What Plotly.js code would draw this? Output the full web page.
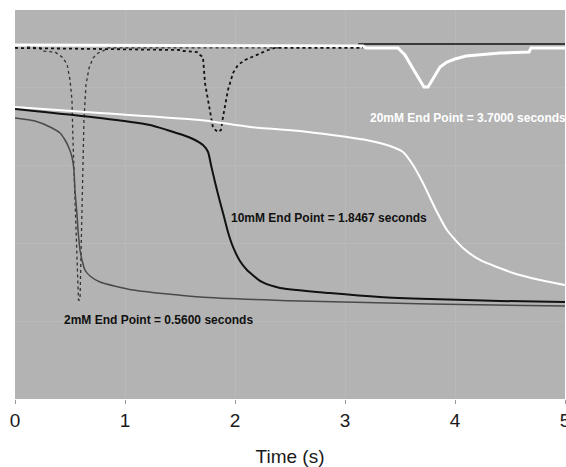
<!DOCTYPE html>
<html>
<head>
<meta charset="utf-8">
<script src="https://cdn.plot.ly/plotly-3.0.1.min.js"></script>
<style>html,body{margin:0;padding:0;background:#fff;}#chart{width:566px;height:467px;}</style>
</head>
<body>
<div id="chart"></div>
<script>
// Time axis (s)
var tickVals = [0, 1, 2, 3, 4, 5];
var tickText = ["0", "1", "2", "3", "4", "5"];

// 20mM signal (white)
var t20 = [0, 0.773, 1.682, 2.136, 2.591, 3.191, 3.409, 3.527, 3.618, 3.709, 3.818, 3.927, 4.073, 4.227, 4.527, 4.773, 5.0];
var v20 = [3.753, 3.676, 3.586, 3.496, 3.445, 3.329, 3.252, 3.175, 3.008, 2.776, 2.455, 2.172, 1.941, 1.787, 1.620, 1.530, 1.465];

// 10mM signal (black)
var t10 = [0, 0.773, 1.227, 1.382, 1.527, 1.618, 1.709, 1.755, 1.782, 1.818, 1.864, 1.891, 1.936, 1.982, 2.045, 2.109, 2.245, 2.409, 2.864, 3.318, 3.773, 4.409, 5.0];
var v10 = [3.728, 3.612, 3.522, 3.458, 3.393, 3.342, 3.265, 3.175, 3.008, 2.789, 2.532, 2.391, 2.147, 1.954, 1.774, 1.658, 1.504, 1.427, 1.362, 1.311, 1.285, 1.260, 1.247];

// 2mM signal (dark grey)
var t2 = [0, 0.182, 0.318, 0.409, 0.455, 0.491, 0.518, 0.536, 0.545, 0.564, 0.573, 0.591, 0.609, 0.636, 0.682, 0.773, 1.073, 1.682, 2.591, 3.773, 5.0];
var v2 = [3.612, 3.573, 3.496, 3.419, 3.329, 3.226, 3.111, 2.943, 2.686, 2.365, 2.172, 1.915, 1.787, 1.658, 1.581, 1.504, 1.401, 1.311, 1.260, 1.221, 1.195];

// End-point detection traces
var tBase = [3.12, 5];
var vBase = [4.563, 4.563];

var td20 = [0, 3.164, 3.191, 3.482, 3.5, 3.545, 3.609, 3.682, 3.718, 3.755, 3.8, 3.864, 3.927, 4.0, 4.1, 4.318, 4.409, 4.673, 4.691, 5.0];
var vd20 = [4.550, 4.537, 4.512, 4.512, 4.486, 4.422, 4.267, 4.100, 4.010, 4.010, 4.113, 4.267, 4.332, 4.370, 4.409, 4.434, 4.447, 4.460, 4.512, 4.512];

var td10 = [0, 1.5, 1.527, 1.655, 1.682, 1.709, 1.727, 1.755, 1.791, 1.8, 1.845, 1.873, 1.891, 1.936, 1.982, 2.027, 2.091, 2.155, 2.227, 2.3, 2.364, 3.164];
var vd10 = [4.512, 4.486, 4.473, 4.460, 4.422, 4.396, 4.062, 3.843, 3.522, 3.484, 3.432, 3.458, 3.625, 3.972, 4.190, 4.293, 4.357, 4.396, 4.447, 4.486, 4.512, 4.512];

var td2 = [0.109, 0.227, 0.245, 0.364, 0.427, 0.473, 0.5, 0.518, 0.527, 0.545, 0.564, 0.577, 0.591, 0.6, 0.618, 0.627, 0.645, 0.673, 0.709, 0.755, 0.818, 0.845, 2.4];
var vd2 = [4.524, 4.512, 4.473, 4.460, 4.396, 4.306, 4.100, 3.843, 3.329, 2.558, 1.658, 1.272, 1.272, 1.915, 2.943, 3.586, 4.036, 4.254, 4.383, 4.447, 4.486, 4.512, 4.512];

// Labels
var noteText = ["20mM End Point = 3.7000 seconds", "10mM End Point = 1.8467 seconds", "2mM End Point = 0.5600 seconds"];
var noteT = [4.118, 2.855, 1.309];
var noteV = [3.612, 2.326, 1.015];
var noteColor = ["#ffffff", "#111111", "#111111"];

var traces = [
  {x: tBase, y: vBase, mode: 'lines', line: {color: '#111111', width: 1.5}, hoverinfo: 'skip'},
  {x: td20, y: vd20, mode: 'lines', line: {color: '#ffffff', width: 3}, hoverinfo: 'skip'},
  {x: td2, y: vd2, mode: 'lines', line: {color: '#333333', width: 1.3, dash: 'dot'}, hoverinfo: 'skip'},
  {x: td10, y: vd10, mode: 'lines', line: {color: '#111111', width: 1.8, dash: 'dot'}, hoverinfo: 'skip'},
  {x: t20, y: v20, mode: 'lines', line: {color: '#ffffff', width: 2, shape: 'spline', smoothing: 0.6}, hoverinfo: 'skip'},
  {x: t2, y: v2, mode: 'lines', line: {color: '#4a4a4a', width: 1.5, shape: 'spline', smoothing: 0.6}, hoverinfo: 'skip'},
  {x: t10, y: v10, mode: 'lines', line: {color: '#111111', width: 2, shape: 'spline', smoothing: 0.6}, hoverinfo: 'skip'}
];

var annotations = noteText.map(function (s, i) {
  return {x: noteT[i], y: noteV[i], xref: 'x', yref: 'y', text: '<b>' + s + '</b>', showarrow: false,
    font: {family: 'Liberation Sans, Arial, sans-serif', size: 12, color: noteColor[i]}};
});

var layout = {
  width: 566, height: 467,
  margin: {l: 15, r: 1, t: 10, b: 68},
  paper_bgcolor: '#ffffff',
  plot_bgcolor: '#b3b3b3',
  showlegend: false,
  font: {family: 'Liberation Sans, Arial, sans-serif', color: '#1a1a1a'},
  xaxis: {
    range: [0, 5], tickvals: tickVals, ticktext: tickText,
    ticks: 'outside', ticklen: 4, tickcolor: '#999999',
    ticklabeloverflow: 'allow',
    showgrid: true, gridcolor: '#b9b9b9', zeroline: false, showline: false,
    tickfont: {size: 19, color: '#1a1a1a'},
    title: {text: 'Time (s)', font: {size: 19, color: '#1a1a1a'}, standoff: 22}
  },
  yaxis: {
    range: [0, 5], dtick: 1, showticklabels: false, ticks: '',
    showgrid: true, gridcolor: '#b9b9b9', zeroline: false, showline: false
  },
  annotations: annotations
};

Plotly.newPlot('chart', traces, layout, {staticPlot: true, displayModeBar: false});
</script>
</body>
</html>
